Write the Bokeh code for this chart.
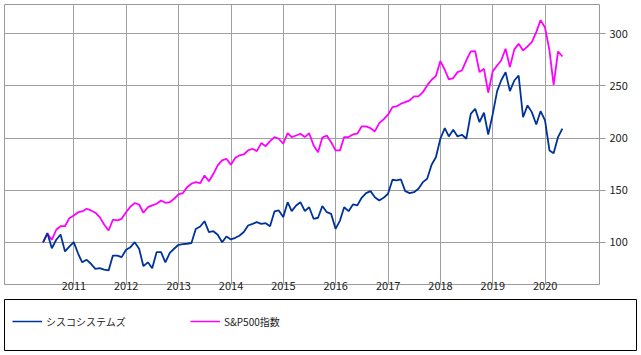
import calendar
from datetime import datetime, timezone

from bokeh.plotting import figure
from bokeh.layouts import column
from bokeh.models import (Range1d, FixedTicker, DatetimeTickFormatter, Legend, LegendItem,
                          ColumnDataSource)
from bokeh.embed import file_html
from bokeh.resources import INLINE

# ---------------- data ----------------
start_year, start_month, n_months = 2010, 5, 120

cisco = [
    100, 109, 94.5, 102.6, 107.7, 91.4, 96, 100.3, 89.2, 81,
    83.4, 79.6, 74.8, 75.4, 74, 73.2, 87.5, 87.5, 86, 93,
    95.5, 100.3, 94, 77.3, 81, 75.4, 90.7, 90.7, 81, 90,
    94, 97.8, 98.5, 98.8, 99.5, 113, 115.3, 120.4, 110, 110.8,
    107.4, 100.3, 105.8, 102.9, 104.5, 106.5, 110, 116.3, 117.9, 119.5,
    117.9, 118.5, 115.6, 129.7, 130.7, 124.3, 138.6, 130, 135.5, 138.6,
    130, 133.8, 122.7, 123.7, 135, 129, 127.5, 113.1, 121, 133.8,
    130, 136.4, 135.5, 142.8, 147.3, 149.2, 143.4, 140.2, 142.8, 146.7,
    160.1, 159.4, 160.4, 149.2, 147.3, 148.2, 151.5, 157.8, 161, 174.5,
    181.7, 199.4, 209.5, 201.6, 208, 201.6, 203.2, 199.4, 223.3, 228.1,
    215.3, 224.3, 203.5, 222.7, 245, 255.2, 263.2, 245, 255.2, 260,
    220, 231.3, 224.9, 213.1, 225.8, 216.9, 188.2, 185.6, 201, 209,
]

sp500 = [
    100, 108.3, 102.6, 112.2, 115.6, 115.6, 123.3, 125.9, 129, 129.7,
    132.3, 130.7, 128.5, 124.3, 117.2, 111.5, 121.8, 121.1, 122.7, 129,
    134.5, 137.7, 136.4, 128.5, 133.8, 135.5, 137.1, 140.2, 138, 138.6,
    141.9, 146, 147.3, 153, 156.3, 157.8, 156.8, 164.2, 158.7, 165.8,
    173.8, 178.6, 180.2, 174.5, 181.2, 183.4, 184.3, 188.2, 189.8, 187.5,
    195.2, 192.3, 197.1, 201, 199.4, 194.6, 204.7, 201, 202.5, 204.2,
    201, 204.7, 193, 186.5, 200.5, 202.5, 196.1, 188.2, 188.2, 201,
    201, 203.5, 204.2, 211.2, 211.2, 209.5, 206.4, 214.3, 217.9, 222.4,
    229.7, 230.3, 232.9, 234.5, 236.1, 239.9, 239.9, 244, 250.5, 255.9,
    259.4, 273.8, 265.5, 256.2, 257.5, 263.2, 264.8, 274.4, 283, 283.3,
    263.2, 266.4, 243.5, 263.9, 269.6, 274.4, 285.6, 268, 285, 290.4,
    284, 287.8, 292, 301.5, 313, 306, 284, 251, 283, 278.2,
]

series_names = ["シスコシステムズ", "S&P500指数"]
year_ticks = list(range(2011, 2021))
y_ticks = [100, 150, 200, 250, 300]

# month-end dates
dates = []
y, m = start_year, start_month
for _ in range(n_months):
    dates.append(datetime(y, m, calendar.monthrange(y, m)[1]))
    m += 1
    if m > 12:
        m = 1
        y += 1

src = ColumnDataSource(dict(date=dates, cisco=cisco, sp500=sp500))

# ---------------- main chart ----------------
GRID = "#a0a0a0"
p = figure(x_axis_type="datetime", y_axis_location="right",
           frame_width=595, frame_height=280,
           min_border_left=4, min_border_top=4, min_border_right=42, min_border_bottom=15,
           x_range=Range1d(datetime(2009, 9, 4), datetime(2021, 1, 14)),
           y_range=Range1d(59.75, 328),
           output_backend="svg", toolbar_location=None)
p.outline_line_color = "#999999"
p.outline_line_width = 1
p.background_fill_color = "white"
p.border_fill_color = "white"

tick_ms = [datetime(yy, 1, 1, tzinfo=timezone.utc).timestamp() * 1000 for yy in year_ticks]
p.xaxis.ticker = FixedTicker(ticks=tick_ms)
p.xaxis.formatter = DatetimeTickFormatter(years="%Y", months="%Y", days="%Y", hours="%Y",
                                          hourmin="%Y", minutes="%Y", minsec="%Y",
                                          seconds="%Y", milliseconds="%Y",
                                          microseconds="%Y")
p.yaxis.ticker = FixedTicker(ticks=y_ticks)

for ax in (p.xaxis, p.yaxis):
    ax.axis_line_color = None
    ax.minor_tick_line_color = None
    ax.major_label_text_font = "Noto Sans CJK JP"
    ax.major_label_text_font_size = "11px"
    ax.major_label_text_color = "#222222"
p.xaxis.major_tick_line_color = None
p.xaxis.major_tick_in = 0
p.xaxis.major_tick_out = 0
p.xaxis.major_label_standoff = -3
p.yaxis.major_tick_line_color = "#999999"
p.yaxis.major_tick_in = 0
p.yaxis.major_tick_out = 6
p.yaxis.major_label_standoff = 4

p.xgrid.grid_line_color = GRID
p.ygrid.grid_line_color = GRID
p.xgrid.grid_line_width = 1
p.ygrid.grid_line_width = 1

CISCO_C = "#003399"
SP_C = "#ff00ff"
p.line("date", "sp500", source=src, line_color=SP_C, line_width=1.8)
p.line("date", "cisco", source=src, line_color=CISCO_C, line_width=1.8)

# ---------------- legend box ----------------
lg = figure(frame_width=632, frame_height=51,
            min_border_left=4, min_border_right=5, min_border_top=0, min_border_bottom=4,
            x_range=Range1d(0, 1), y_range=Range1d(0, 1),
            x_axis_location=None, y_axis_location=None,
            output_backend="svg", toolbar_location=None)
lg.grid.visible = False
lg.outline_line_color = "black"
lg.outline_line_width = 1
lg.background_fill_color = "white"
lg.border_fill_color = "white"
# legend swatches only (kept outside the visible range of this box)
r1 = lg.line(x=[-5, -4], y=[-5, -5], line_color=CISCO_C, line_width=1.5)
r2 = lg.line(x=[-5, -4], y=[-5, -5], line_color=SP_C, line_width=1.5)
legend = Legend(items=[LegendItem(label=series_names[0], renderers=[r1]),
                       LegendItem(label=series_names[1], renderers=[r2])],
                orientation="horizontal", location=(8, 19),
                glyph_width=30, glyph_height=20, label_height=20, label_width=144,
                label_standoff=4, spacing=0, padding=0, margin=0,
                border_line_alpha=0, background_fill_alpha=0,
                label_text_font="Noto Sans CJK JP", label_text_font_size="10px",
                label_text_color="#222222")
lg.add_layout(legend, "center")

layout = column(p, lg, spacing=0)
open("out.html", "w").write(file_html(layout, INLINE))
